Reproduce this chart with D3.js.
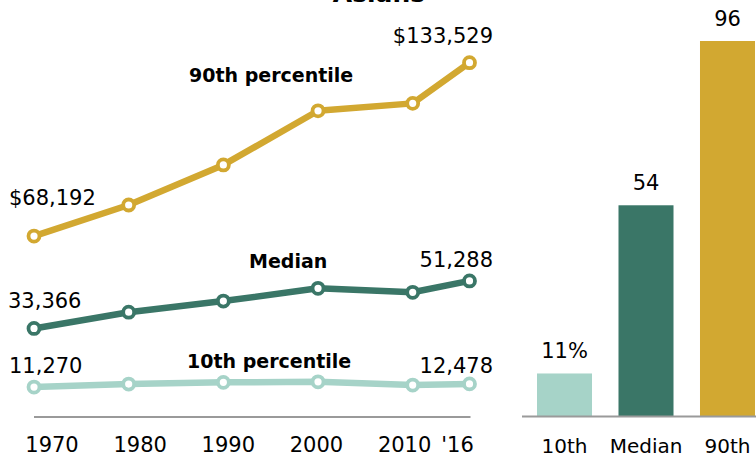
<!DOCTYPE html>
<html>
<head>
<meta charset="utf-8">
<script src="https://cdn.jsdelivr.net/npm/d3@7/dist/d3.min.js"></script>
<style>
  html, body { margin: 0; padding: 0; background: #fff; }
  svg { display: block; font-family: "DejaVu Sans", sans-serif; }
</style>
</head>
<body>
<svg id="chart" width="756" height="462"></svg>
<script>
// Household income of Asians at the 10th, median and 90th percentiles
const years = [1970, 1980, 1990, 2000, 2010, 2016];
const yearLabels = ["1970", "1980", "1990", "2000", "2010", "'16"];
const p90 = [68192, 79900, 95000, 115400, 118200, 133529];
const median = [33366, 39500, 43700, 48500, 47000, 51288];
const p10 = [11270, 12400, 13050, 13250, 12050, 12478];

// Percent change, 1970 to 2016
const barCategories = ["10th", "Median", "90th"];
const barValues = [11, 54, 96];

const gold = "#D2A831", green = "#3A7667", mint = "#A6D3C8";

const svg = d3.select("#chart");

// Title (sits partly above the visible area)
svg.append("text")
  .attr("x", 379).attr("y", 1.5)
  .attr("text-anchor", "middle")
  .attr("font-weight", "bold")
  .attr("font-size", 25)
  .attr("fill", "#000")
  .text("Asians");

// ---- Line chart ----
const x = d3.scaleLinear().domain([1970, 2016]).range([34, 469.5]);
const y = d3.scaleLinear().domain([0, 133529]).range([417, 62.7]);
const xTicks = d3.scaleLinear().domain([1970, 2016]).range([51.5, 457]);

const lineG = svg.append("g");

// baseline
lineG.append("line")
  .attr("x1", x(1970)).attr("x2", x(2016) + 1)
  .attr("y1", y(0)).attr("y2", y(0))
  .attr("stroke", "#9a9a9a").attr("stroke-width", 2);

// year axis
const xAxis = d3.axisBottom(xTicks)
  .tickValues(years)
  .tickFormat((d, i) => yearLabels[i])
  .tickSize(0).tickPadding(0);
const axG = lineG.append("g").attr("transform", "translate(0,452)").call(xAxis);
axG.select(".domain").remove();
axG.selectAll("text")
  .attr("dy", 0)
  .attr("font-family", "DejaVu Sans, sans-serif")
  .attr("font-size", 21)
  .attr("fill", "#000");

const series = [
  { name: "90th percentile", values: p90, color: gold, fmt: d3.format("$,"),
    nameAt: [189, 82], startOff: [-25, -31], endOff: [23.5, -20] },
  { name: "Median", values: median, color: green, fmt: d3.format(","),
    nameAt: [249, 268], startOff: [-26, -20], endOff: [23.5, -14] },
  { name: "10th percentile", values: p10, color: mint, fmt: d3.format(","),
    nameAt: [187, 368], startOff: [-25, -14], endOff: [23.5, -11] }
];

const line = d3.line().x((d, i) => x(years[i])).y(d => y(d));

series.forEach(s => {
  const g = lineG.append("g");
  g.append("path")
    .datum(s.values)
    .attr("d", line)
    .attr("fill", "none")
    .attr("stroke", s.color)
    .attr("stroke-width", 6.5)
    .attr("stroke-linejoin", "round");
  g.selectAll("circle")
    .data(s.values)
    .join("circle")
    .attr("cx", (d, i) => x(years[i]))
    .attr("cy", d => y(d))
    .attr("r", 5.5)
    .attr("fill", "#fff")
    .attr("stroke", s.color)
    .attr("stroke-width", 3.8);

  const first = s.values[0], last = s.values[s.values.length - 1];
  g.append("text")
    .attr("x", x(years[0]) + s.startOff[0])
    .attr("y", y(first) + s.startOff[1])
    .attr("font-size", 21).attr("fill", "#000")
    .text(s.fmt(first));
  g.append("text")
    .attr("x", x(years[years.length - 1]) + s.endOff[0])
    .attr("y", y(last) + s.endOff[1])
    .attr("text-anchor", "end")
    .attr("font-size", 21).attr("fill", "#000")
    .text(s.fmt(last));
  g.append("text")
    .attr("x", s.nameAt[0]).attr("y", s.nameAt[1])
    .attr("font-size", 19).attr("font-weight", "bold").attr("fill", "#000")
    .text(s.name);
});

// ---- Bar chart ----
const xb = d3.scaleBand().domain(barCategories)
  .range([522, 770]).paddingInner(0.325).paddingOuter(0.184);
const yb = d3.scaleLinear().domain([0, 96]).range([416.5, 41]);
const barColors = [mint, green, gold];

const barG = svg.append("g");
barG.selectAll("rect")
  .data(barValues)
  .join("rect")
  .attr("x", (d, i) => xb(barCategories[i]))
  .attr("width", xb.bandwidth())
  .attr("y", d => yb(d))
  .attr("height", d => yb(0) - yb(d))
  .attr("fill", (d, i) => barColors[i]);

barG.append("line")
  .attr("x1", 522).attr("x2", 756)
  .attr("y1", yb(0)).attr("y2", yb(0))
  .attr("stroke", "#9a9a9a").attr("stroke-width", 2);

barG.selectAll("text.val")
  .data(barValues)
  .join("text")
  .attr("class", "val")
  .attr("x", (d, i) => xb(barCategories[i]) + xb.bandwidth() / 2)
  .attr("y", d => yb(d) - 15.5)
  .attr("text-anchor", "middle")
  .attr("font-size", 21).attr("fill", "#000")
  .text((d, i) => i === 0 ? d + "%" : d);

const bAxis = d3.axisBottom(xb).tickSize(0).tickPadding(0);
const bAxG = barG.append("g").attr("transform", "translate(0,453)").call(bAxis);
bAxG.select(".domain").remove();
bAxG.selectAll("text")
  .attr("dy", 0)
  .attr("font-family", "DejaVu Sans, sans-serif")
  .attr("font-size", 20)
  .attr("fill", "#000");
</script>
</body>
</html>
